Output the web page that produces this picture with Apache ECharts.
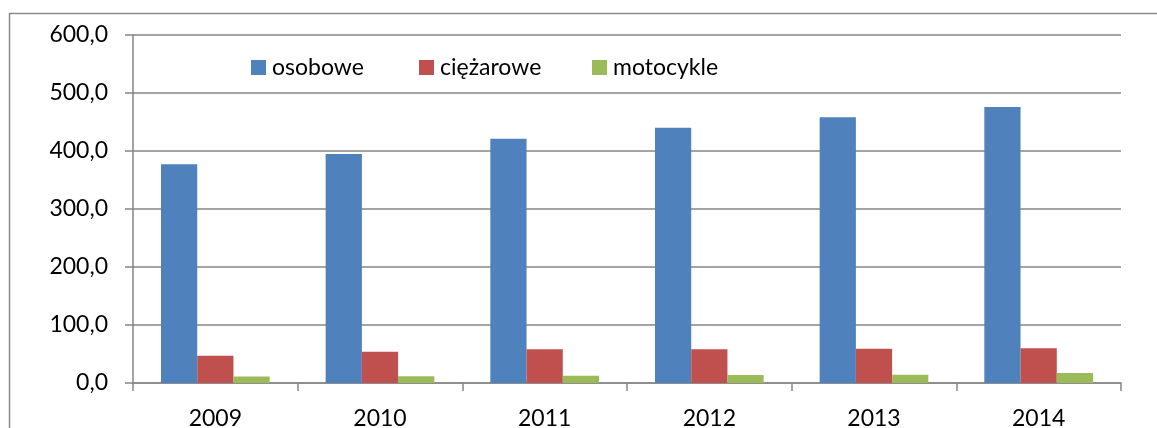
<!DOCTYPE html>
<html lang="pl">

<head>
    <meta charset="UTF-8">
    <title>Pojazdy</title>
    <script src="https://cdn.jsdelivr.net/npm/echarts@6/dist/echarts.min.js"></script>
    <style>
        html, body {
            margin: 0;
            padding: 0;
            background: #fff;
        }

        #chart {
            width: 1157px;
            height: 428px;
        }
    </style>
</head>

<body>
    <div id="chart"></div>
    <script>
        // dane
        var years = ['2009', '2010', '2011', '2012', '2013', '2014'];
        var osobowe = [377.0, 395.0, 421.0, 440.0, 458.0, 476.0];
        var ciezarowe = [47.0, 54.0, 58.0, 58.0, 59.0, 60.0];
        var motocykle = [11.0, 11.5, 12.6, 13.8, 14.4, 17.2];
        var names = ['osobowe', 'ciężarowe', 'motocykle'];
        var colors = ['#4F81BD', '#C0504D', '#9BBB59'];
        var legendLeft = [246, 414, 587];

        var font = 'Lato, "Open Sans", sans-serif';
        var myChart = echarts.init(document.getElementById('chart'));

        var legends = names.map(function (n, i) {
            return {
                data: [n],
                left: legendLeft[i],
                top: 51,
                itemWidth: 15,
                itemHeight: 15,
                itemGap: 0,
                icon: 'rect',
                textStyle: { fontFamily: font, fontSize: 23, color: '#000', padding: [0, 0, 0, 1] }
            };
        });

        myChart.setOption({
            animation: false,
            color: colors,
            graphic: [{
                type: 'rect',
                shape: { x: 9.5, y: 13.5, width: 1300, height: 600 },
                style: { fill: 'none', stroke: '#8a8a8a', lineWidth: 1.5 },
                silent: true
            }],
            legend: legends,
            grid: { left: 133, top: 35, right: 36, bottom: 45, outerBoundsMode: 'none' },
            xAxis: {
                type: 'category',
                data: years,
                axisLine: { lineStyle: { color: '#868686', width: 1.5 } },
                axisTick: { show: true, length: 8, lineStyle: { color: '#868686', width: 1.5 } },
                axisLabel: { margin: 24, fontFamily: font, fontSize: 23, color: '#000' }
            },
            yAxis: {
                type: 'value',
                min: 0,
                max: 600,
                interval: 100,
                axisLine: { show: true, lineStyle: { color: '#868686', width: 1.5 } },
                axisTick: { show: true, length: 8, lineStyle: { color: '#868686', width: 1.5 } },
                splitLine: { lineStyle: { color: '#868686', width: 1.5 } },
                axisLabel: {
                    margin: 25,
                    fontFamily: font,
                    fontSize: 23,
                    color: '#000',
                    formatter: function (v) {
                        return v.toFixed(1).replace('.', ',');
                    }
                }
            },
            series: [
                {
                    name: names[0],
                    type: 'bar',
                    data: osobowe,
                    barGap: '0%',
                    barCategoryGap: '34%'
                },
                {
                    name: names[1],
                    type: 'bar',
                    data: ciezarowe
                },
                {
                    name: names[2],
                    type: 'bar',
                    data: motocykle
                }
            ]
        });
    </script>
</body>

</html>
